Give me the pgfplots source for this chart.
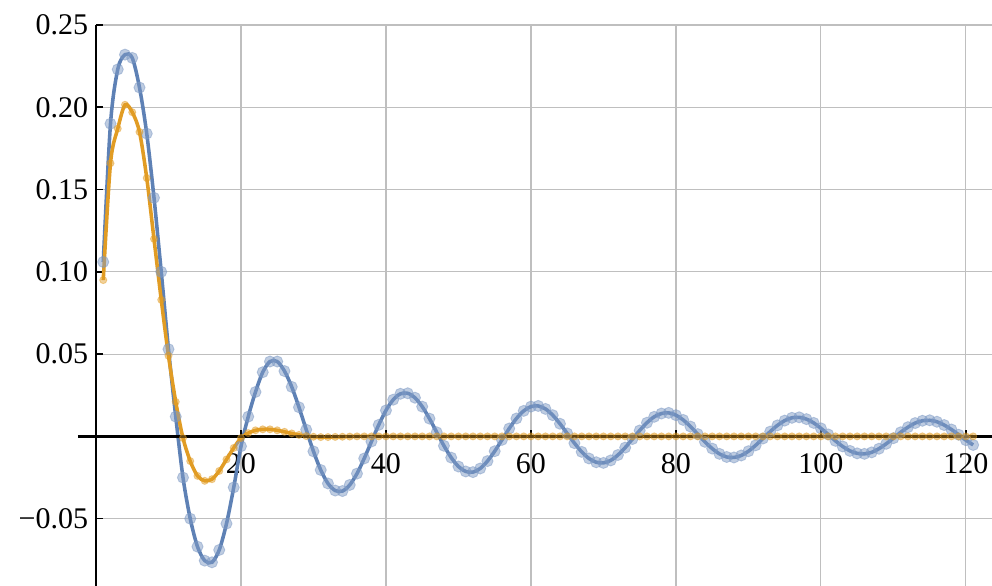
\documentclass[border=0pt]{standalone}
\usepackage{pgfplots}
\usepackage{pgfplotstable}
\pgfplotsset{compat=1.18}
\usepackage{fontspec}
\setmainfont{Liberation Serif}
\definecolor{mblue}{RGB}{94,129,181}
\definecolor{morange}{RGB}{225,156,36}

\pgfplotstableread{
x y
1 0.106
2 0.190
3 0.223
4 0.232
5 0.230
6 0.212
7 0.184
8 0.145
9 0.100
10 0.053
11 0.012
12 -0.025
13 -0.050
14 -0.067
15 -0.0755
16 -0.0765
17 -0.069
18 -0.053
19 -0.031
20 -0.006
21 0.012
22 0.027
23 0.039
24 0.0455
25 0.0455
26 0.0397
27 0.0301
28 0.0177
29 0.0041
30 -0.0091
31 -0.0204
32 -0.0286
33 -0.0329
34 -0.0332
35 -0.0295
36 -0.0226
37 -0.0134
38 -0.0031
39 0.0070
40 0.0158
41 0.0223
42 0.0259
43 0.0262
44 0.0235
45 0.0181
46 0.0108
47 0.0025
48 -0.0057
49 -0.0129
50 -0.0183
51 -0.0213
52 -0.0217
53 -0.0195
54 -0.0150
55 -0.0090
56 -0.0021
57 0.0048
58 0.0109
59 0.0155
60 0.0181
61 0.0185
62 0.0167
63 0.0129
64 0.0077
65 0.0018
66 -0.0041
67 -0.0094
68 -0.0134
69 -0.0157
70 -0.0161
71 -0.0146
72 -0.0113
73 -0.0068
74 -0.0016
75 0.0036
76 0.0083
77 0.0119
78 0.0139
79 0.0143
80 0.0129
81 0.0100
82 0.0060
83 0.0014
84 -0.0033
85 -0.0074
86 -0.0106
87 -0.0125
88 -0.0128
89 -0.0116
90 -0.0090
91 -0.0054
92 -0.0013
93 0.0029
94 0.0067
95 0.0096
96 0.0113
97 0.0116
98 0.0105
99 0.0082
100 0.0049
101 0.0012
102 -0.0027
103 -0.0061
104 -0.0088
105 -0.0103
106 -0.0106
107 -0.0097
108 -0.0075
109 -0.0045
110 -0.0011
111 0.0025
112 0.0056
113 0.0081
114 0.0095
115 0.0098
116 0.0089
117 0.0069
118 0.0042
119 0.0010
120 -0.0023
121 -0.0052
}\bluedata

\pgfplotstableread{
x y
1 0.095
2 0.166
3 0.187
4 0.2015
5 0.197
6 0.185
7 0.157
8 0.120
9 0.083
10 0.049
11 0.021
12 -0.001
13 -0.015
14 -0.024
15 -0.027
16 -0.026
17 -0.021
18 -0.014
19 -0.007
20 -0.001
21 0.002
22 0.0037
23 0.0043
24 0.0043
25 0.0037
26 0.0028
27 0.0018
28 0.0009
29 0.0002
30 -0.0002
31 -0.0004
32 -0.0004
33 -0.0003
34 -0.0002
35 -0.0001
36 0
37 0
38 0
39 0
40 0
41 0
42 0
43 0
44 0
45 0
46 0
47 0
48 0
49 0
50 0
51 0
52 0
53 0
54 0
55 0
56 0
57 0
58 0
59 0
60 0
61 0
62 0
63 0
64 0
65 0
66 0
67 0
68 0
69 0
70 0
71 0
72 0
73 0
74 0
75 0
76 0
77 0
78 0
79 0
80 0
81 0
82 0
83 0
84 0
85 0
86 0
87 0
88 0
89 0
90 0
91 0
92 0
93 0
94 0
95 0
96 0
97 0
98 0
99 0
100 0
101 0
102 0
103 0
104 0
105 0
106 0
107 0
108 0
109 0
110 0
111 0
112 0
113 0
114 0
115 0
116 0
117 0
118 0
119 0
120 0
121 0
}\orangedata

\begin{document}
\begin{tikzpicture}
\begin{axis}[
  at={(0pt,0pt)}, anchor=south west,
  scale only axis, width=403.2pt, height=252.45pt,
  xmin=0, xmax=123.6, ymin=-0.0909, ymax=0.25,
  axis lines=middle,
  axis line style={-, black, line width=1.2pt},
  xtick={20,40,60,80,100,120},
  xticklabels={20,40,60,80,100,120},
  ytick={-0.05,0.05,0.10,0.15,0.20,0.25},
  yticklabels={−0.05,0.05,0.10,0.15,0.20,0.25},
  grid=major,
  grid style={gray!50, line width=0.5pt},
  tick style={black, line width=0.7pt},
  major tick length=3pt,
  tick align=inside,
  ticklabel style={font=\fontsize{13.5}{15}\selectfont},
  xticklabel style={yshift=-4pt},
  clip=false,
]
\addplot[only marks, mark=*, mark size=2.5pt, color=mblue!80,
  mark options={draw=mblue!80, fill=mblue!80, opacity=0.5}] table {\bluedata};
\addplot[mblue, line width=1.6pt, smooth, no marks] table {\bluedata};
\addplot[only marks, mark=*, mark size=1.6pt, color=morange,
  mark options={draw=morange, fill=morange, opacity=0.45}] table {\orangedata};
\addplot[morange, line width=1.6pt, smooth, no marks] table {\orangedata};
\draw[black, line width=1.2pt] (axis cs:-2.5,0) -- (axis cs:123.6,0);
\end{axis}
\pgfresetboundingbox
\path[use as bounding box] (-43.2pt,0pt) rectangle (403.2pt,263.7pt);
\end{tikzpicture}
\end{document}
